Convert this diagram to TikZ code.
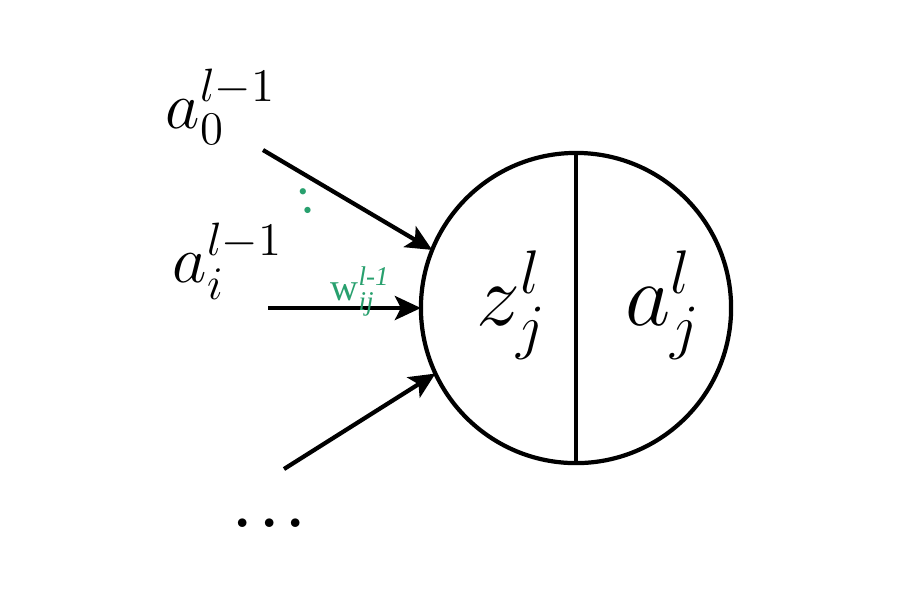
\RequirePackage{fix-cm}
\documentclass[tikz,border=0pt]{standalone}
\usepackage{amsmath}
\usepackage{fontspec}
\usepackage{xcolor}
\usetikzlibrary{arrows.meta}
\tikzset{>={Stealth[width=2.4mm,length=2.6mm,inset=0.6mm]}}
\newfontfamily\wfont{Liberation Serif}
\definecolor{wgreen}{RGB}{40,160,110}

\begin{document}
\begin{tikzpicture}[x=0.01cm,y=-0.01cm]

  \useasboundingbox (0,0) rectangle (922,614);

  \node[draw,circle,line width=1.2pt,minimum size=3.1cm,inner sep=0pt,outer sep=0pt] (neuron) at (576,308) {};
  \draw[line width=1.2pt] (neuron.north) -- (neuron.south);

  \coordinate (in0) at (263,150);
  \coordinate (ini) at (268,308);
  \coordinate (inn) at (284,469);

  \draw[line width=1.2pt,black,->] (in0) -- (neuron.158);
  \draw[line width=1.2pt,black,->] (ini) -- (neuron.180);
  \draw[line width=1.2pt,black,->] (inn) -- (neuron.205);

  \node[anchor=base west,inner sep=0pt] (a0) at (165,128) {\fontsize{19}{23}\selectfont$a_0^{l-1}$};
  \node[anchor=base west,inner sep=0pt] (ai) at (172,282) {\fontsize{19}{23}\selectfont$a_i^{l-1}$};
  \node[anchor=base west,inner sep=0pt] (dots) at (229,527) {\fontsize{30}{32}\selectfont ...};

  \node[anchor=base west,inner sep=0pt] (z) at (476,325) {\fontsize{25}{30}\selectfont$z_j^l$};
  \node[anchor=base west,inner sep=0pt] (a) at (625,325) {\fontsize{25}{30}\selectfont$a_j^l$};

  \node[inner sep=0pt,text=wgreen,rotate=14] (vd) at (306,201) {\wfont\fontsize{15}{17}\selectfont :};
  \node[anchor=base west,inner sep=0pt,text=wgreen] (w) at (330,300) {\wfont\fontsize{11}{13}\selectfont w$^{\textit{l-1}}_{\textit{ij}}$};

\end{tikzpicture}
\end{document}
